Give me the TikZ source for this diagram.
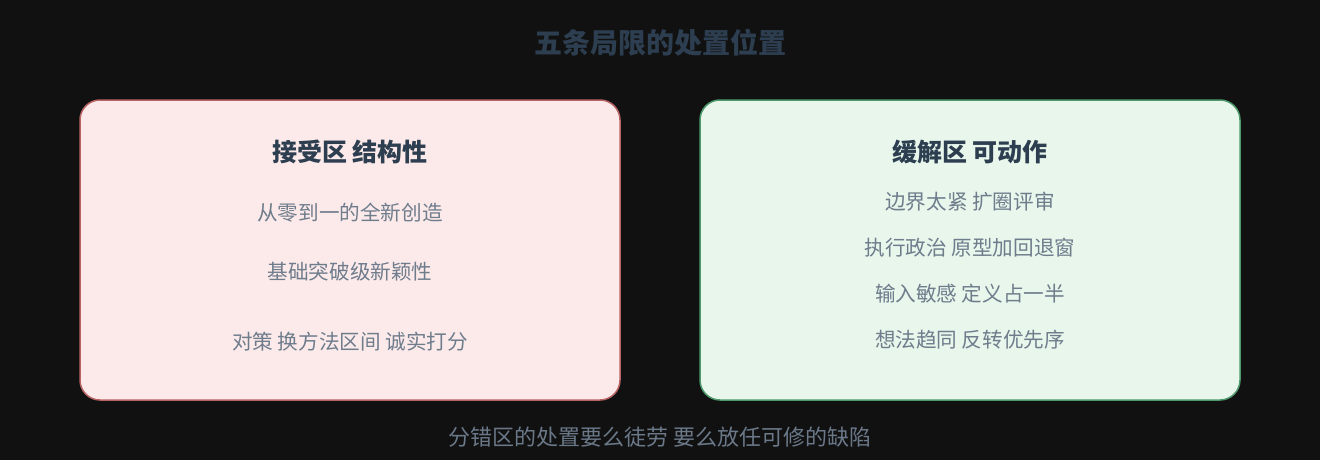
\documentclass[tikz,border=0pt]{standalone}
\usepackage{fontspec}
\setmainfont{Noto Sans CJK SC}
\usetikzlibrary{positioning}
\definecolor{bgdark}{HTML}{111111}
\definecolor{titleblue}{HTML}{2C3E50}
\definecolor{bodygray}{HTML}{6E7C8C}
\definecolor{footgray}{HTML}{6A7888}
\definecolor{acceptfill}{HTML}{FCEAEA}
\definecolor{acceptline}{HTML}{B86464}
\definecolor{easefill}{HTML}{E8F6EC}
\definecolor{easeline}{HTML}{4E9A6C}

\begin{document}
\begin{tikzpicture}[x=1pt,y=-1pt]
\tikzstyle{zone} = [draw,line width=1.5pt,rounded corners=20pt,minimum width=540pt,minimum height=300pt,inner sep=0pt]
\tikzstyle{zonehead} = [text=titleblue,font=\fontsize{25}{29}\selectfont\bfseries,inner sep=0pt]
\tikzstyle{item} = [text=bodygray,font=\fontsize{20.6}{24}\selectfont,inner sep=0pt,node distance=46pt]

\fill[bgdark] (0,0) rectangle (1320,460);
\useasboundingbox (0,0) rectangle (1320,460);

\node[text=titleblue,font=\fontsize{28}{32}\selectfont\bfseries] (title) at (660,43) {五条局限的处置位置};

% accept zone
\node[zone,fill=acceptfill,draw=acceptline] (accept) at (350,250) {};
\node[zonehead] (accepthead) at (350,152) {接受区 结构性};
\node[item] (a1) at (350,213) {从零到一的全新创造};
\node[item] (a2) at (350,272) {基础突破级新颖性};
\node[item] (a3) at (350,342) {对策 换方法区间 诚实打分};

% ease zone
\node[zone,fill=easefill,draw=easeline] (ease) at (970,250) {};
\node[zonehead] (easehead) at (970,152) {缓解区 可动作};
\node[item] (e1) at (970,202) {边界太紧 扩圈评审};
\node[item,below of=e1] (e2) {执行政治 原型加回退窗};
\node[item,below of=e2] (e3) {输入敏感 定义占一半};
\node[item,below of=e3] (e4) {想法趋同 反转优先序};

\node[text=footgray,font=\fontsize{22}{26}\selectfont] (foot) at (660,437) {分错区的处置要么徒劳 要么放任可修的缺陷};
\end{tikzpicture}
\end{document}
